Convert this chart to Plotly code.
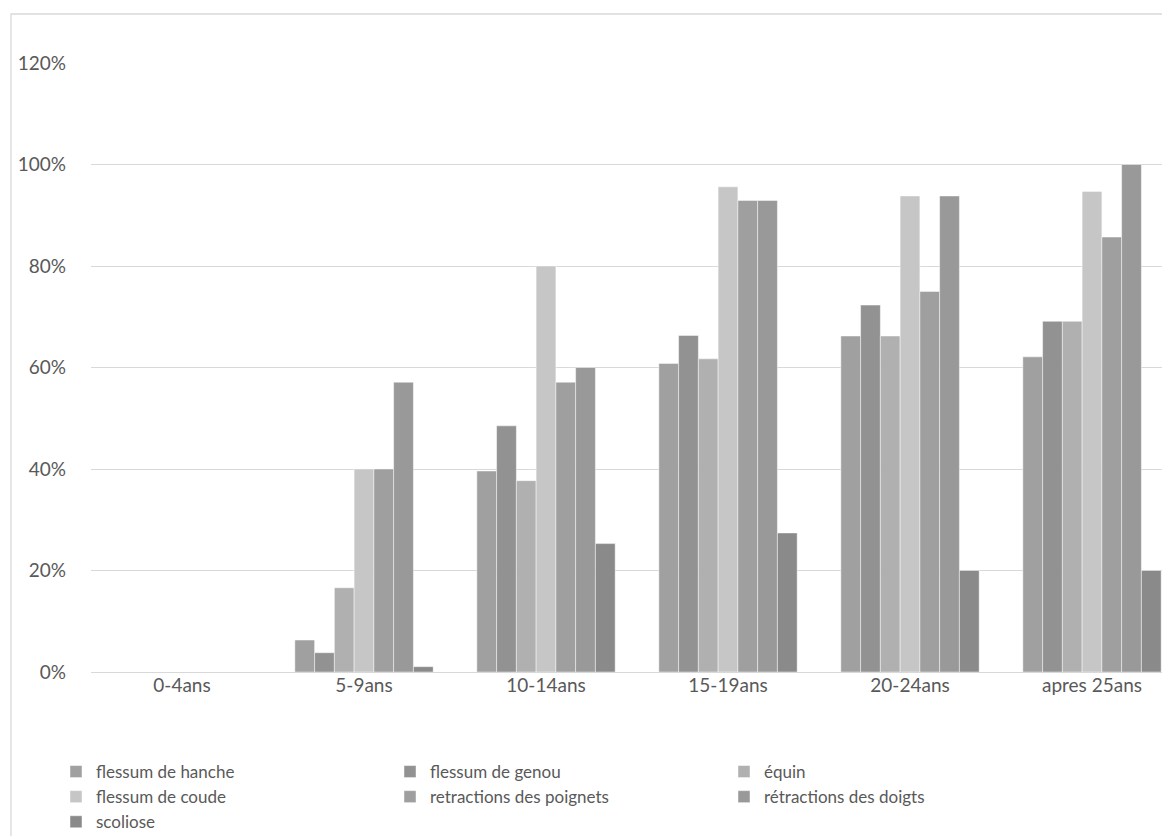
import plotly.graph_objects as go

categories = ["0-4ans", "5-9ans", "10-14ans", "15-19ans", "20-24ans", "apres 25ans"]

series_names = [
    "flessum de hanche",
    "flessum de genou",
    "équin",
    "flessum de coude",
    "retractions des poignets",
    "rétractions des doigts",
    "scoliose",
]

flessum_hanche = [0, 0.063, 0.396, 0.608, 0.662, 0.621]
flessum_genou = [0, 0.038, 0.485, 0.663, 0.723, 0.691]
equin = [0, 0.166, 0.377, 0.617, 0.662, 0.691]
flessum_coude = [0, 0.40, 0.80, 0.956, 0.938, 0.947]
retractions_poignets = [0, 0.40, 0.571, 0.929, 0.75, 0.857]
retractions_doigts = [0, 0.571, 0.60, 0.929, 0.938, 1.0]
scoliose = [0, 0.0105, 0.253, 0.274, 0.20, 0.20]

values = [flessum_hanche, flessum_genou, equin, flessum_coude,
          retractions_poignets, retractions_doigts, scoliose]
colors = ["#a0a0a0", "#929292", "#b0b0b0", "#c6c6c6", "#9f9f9f", "#999999", "#8a8a8a"]

OFF = 8  # page offset of the figure (body margin)
W, H = 1170 - OFF, 836 - OFF
FONT = "Lato, 'Open Sans', sans-serif"
TXT = "#595959"
FS = 19

fig = go.Figure()
for name, vals, col in zip(series_names, values, colors):
    fig.add_trace(go.Bar(
        x=categories, y=vals, name=name,
        marker=dict(color=col, line=dict(color="rgba(255,255,255,0.45)", width=1)),
    ))

# plot area in page pixels (reference), converted to figure pixels
x0 = 91 - OFF
y_top, y_bot = 63 - OFF, 672 - OFF
step = 182.0

fig.update_layout(
    width=W, height=H,
    margin=dict(l=0, r=0, t=0, b=0, autoexpand=False),
    paper_bgcolor="white", plot_bgcolor="white",
    barmode="group", bargap=0.24, bargroupgap=0,
    font=dict(family=FONT, size=FS, color=TXT),
    xaxis=dict(
        domain=[x0 / W, 1.0],
        range=[-0.5, -0.5 + (W - x0) / step],
        showgrid=False, showline=False, zeroline=False,
        ticks="", tickfont=dict(size=FS, color=TXT),
        type="category", automargin=False,
    ),
    yaxis=dict(
        domain=[1 - y_bot / H, 1 - y_top / H],
        range=[0, 1.2],
        tickvals=[0, 0.2, 0.4, 0.6, 0.8, 1.0, 1.2],
        ticktext=["0%", "20%", "40%", "60%", "80%", "100%", "120%"],
        showgrid=True, gridcolor="#d9d9d9", gridwidth=1,
        zeroline=True, zerolinecolor="#d9d9d9", zerolinewidth=1,
        showline=False, ticks="", ticklabelstandoff=24,
        tickfont=dict(size=FS, color=TXT), automargin=False,
    ),
    showlegend=True,
    legend=dict(
        orientation="h",
        x=(96 - OFF - 40) / W, xanchor="left",
        y=1 - (754 - OFF) / H, yanchor="top",
        entrywidth=289, entrywidthmode="pixels",
        font=dict(size=17, color=TXT, family=FONT),
        traceorder="normal",
        tracegroupgap=0,
        bgcolor="rgba(0,0,0,0)",
    ),
    shapes=[
        dict(type="rect", xref="paper", yref="paper",
             x0=(11 - OFF) / W, x1=1.5, y0=-0.5, y1=1 - (14 - OFF) / H,
             line=dict(color="#d9d9d9", width=1.3), fillcolor="rgba(0,0,0,0)", layer="below"),
    ],
)

fig.write_html("out.html")
